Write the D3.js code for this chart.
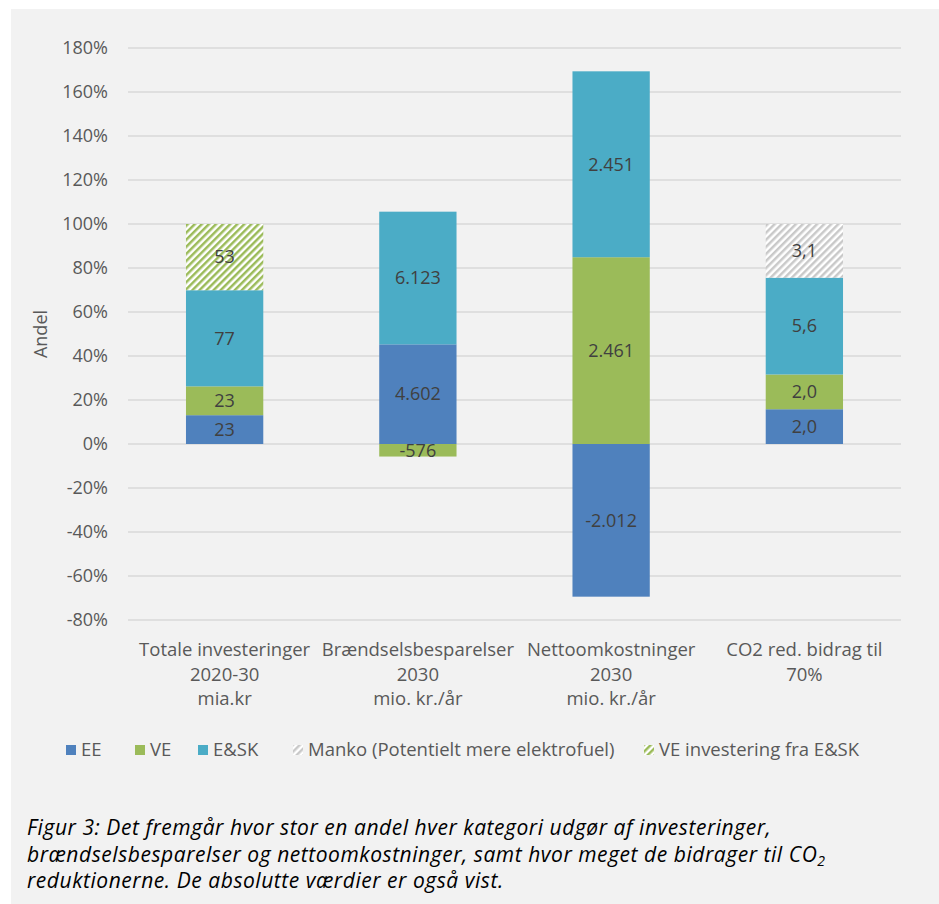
<!DOCTYPE html>
<html>
<head>
<meta charset="utf-8">
<script src="https://cdn.jsdelivr.net/npm/d3@7"></script>
<style>
  body { margin: 0; background: #fff; }
  svg text { font-family: "Open Sans", Lato, sans-serif; }
</style>
</head>
<body>
<svg id="chart" width="939" height="904"></svg>
<script>
// categories (multi-line labels)
var categories = [
  ["Totale investeringer", "2020-30", "mia.kr"],
  ["Brændselsbesparelser", "2030", "mio. kr./år"],
  ["Nettoomkostninger", "2030", "mio. kr./år"],
  ["CO2 red. bidrag til", "70%"]
];

// shares (%) per series, per category
var seriesNames = ["EE", "VE", "E&SK", "Manko", "VEinv"];
var eeShare    = [13.1, 45.3, -69.4, 15.8];
var veShare    = [13.1, -5.7, 84.9, 15.8];
var eskShare   = [43.7, 60.3, 84.5, 44.0];
var mankoShare = [0, 0, 0, 24.4];
var veInvShare = [30.1, 0, 0, 0];

// absolute values shown as labels
var eeLabel    = ["23", "4.602", "-2.012", "2,0"];
var veLabel    = ["23", "-576", "2.461", "2,0"];
var eskLabel   = ["77", "6.123", "2.451", "5,6"];
var mankoLabel = ["", "", "", "3,1"];
var veInvLabel = ["53", "", "", ""];

var yTicks = [-80, -60, -40, -20, 0, 20, 40, 60, 80, 100, 120, 140, 160, 180];

var legendItems = [
  {key: "EE", text: "EE"},
  {key: "VE", text: "VE"},
  {key: "E&SK", text: "E&SK"},
  {key: "Manko", text: "Manko (Potentielt mere elektrofuel)"},
  {key: "VEinv", text: "VE investering fra E&SK"}
];

var caption = [
  "Figur 3: Det fremgår hvor stor en andel hver kategori udgør af investeringer,",
  "brændselsbesparelser og nettoomkostninger, samt hvor meget de bidrager til CO",
  "reduktionerne. De absolutte værdier er også vist."
];

var textColor = "#595959";
var colors = {"EE": "#4f81bd", "VE": "#9bbb59", "E&SK": "#4bacc6", "Manko": "url(#hatchGrey)", "VEinv": "url(#hatchGreen)"};

var svg = d3.select("#chart");

// grey panel
svg.append("rect").attr("x", 11).attr("y", 9).attr("width", 928).attr("height", 895).attr("fill", "#f2f2f2");

// hatch patterns
var defs = svg.append("defs");
function hatch(id, col) {
  var p = defs.append("pattern")
    .attr("id", id)
    .attr("patternUnits", "userSpaceOnUse")
    .attr("width", 5).attr("height", 5)
    .attr("patternTransform", "rotate(45)");
  p.append("rect").attr("width", 5).attr("height", 5).attr("fill", "#fff");
  p.append("rect").attr("width", 2.5).attr("height", 5).attr("fill", col);
}
hatch("hatchGreen", "#9bbb59");
hatch("hatchGrey", "#c9c9c9");

var x = d3.scaleBand().domain(d3.range(categories.length))
  .range([128, 901]).paddingInner(0.6).paddingOuter(0.3);
var y = d3.scaleLinear().domain([-80, 180]).range([620, 48]);

// grid
svg.append("g").selectAll("line").data(yTicks).join("line")
  .attr("x1", 128).attr("x2", 901)
  .attr("y1", d => y(d)).attr("y2", d => y(d))
  .attr("stroke", "#d9d9d9").attr("stroke-width", 1.3);

// y tick labels
svg.append("g").selectAll("text").data(yTicks).join("text")
  .attr("x", 108).attr("y", d => y(d)).attr("dy", "0.35em")
  .attr("text-anchor", "end").attr("fill", textColor).attr("font-size", 18)
  .text(d => d + "%");

svg.append("text")
  .attr("transform", "translate(47," + y(50) + ") rotate(-90)")
  .attr("text-anchor", "middle").attr("fill", textColor).attr("font-size", 18)
  .text("Andel");

// build stacked segments
var shares = {"EE": eeShare, "VE": veShare, "E&SK": eskShare, "Manko": mankoShare, "VEinv": veInvShare};
var labels = {"EE": eeLabel, "VE": veLabel, "E&SK": eskLabel, "Manko": mankoLabel, "VEinv": veInvLabel};
var segs = [];
categories.forEach(function(c, i) {
  var pos = 0, neg = 0;
  seriesNames.forEach(function(s) {
    var v = shares[s][i];
    if (!v) return;
    var y0, y1;
    if (v >= 0) { y0 = pos; y1 = pos + v; pos = y1; }
    else { y0 = neg + v; y1 = neg; neg = y0; }
    segs.push({i: i, s: s, y0: y0, y1: y1, label: labels[s][i]});
  });
});

var bars = svg.append("g");
bars.selectAll("rect").data(segs).join("rect")
  .attr("x", d => x(d.i))
  .attr("width", x.bandwidth())
  .attr("y", d => y(d.y1))
  .attr("height", d => y(d.y0) - y(d.y1))
  .attr("fill", d => colors[d.s]);

bars.selectAll("text").data(segs).join("text")
  .attr("x", d => x(d.i) + x.bandwidth() / 2)
  .attr("y", d => y((d.y0 + d.y1) / 2))
  .attr("dy", "0.35em")
  .attr("text-anchor", "middle")
  .attr("fill", "#404040").attr("font-size", 18)
  .text(d => d.label);

// category labels
var cat = svg.append("g").selectAll("text").data(categories).join("text")
  .attr("text-anchor", "middle").attr("fill", textColor).attr("font-size", 18.5)
  .attr("transform", (d, i) => "translate(" + (x(i) + x.bandwidth() / 2) + ",656)");
cat.selectAll("tspan").data(d => d).join("tspan")
  .attr("x", 0).attr("dy", (d, j) => j === 0 ? 0 : 24.5)
  .text(d => d);

// legend
var legendX = [66, 135, 198, 293, 644];
var lg = svg.append("g").selectAll("g").data(legendItems).join("g")
  .attr("transform", (d, i) => "translate(" + legendX[i] + ",750)");
lg.append("rect").attr("x", 0).attr("y", -5).attr("width", 10).attr("height", 10)
  .attr("fill", d => colors[d.key]);
lg.append("text").attr("x", 15).attr("dy", "0.35em")
  .attr("fill", textColor).attr("font-size", 18.5).text(d => d.text);

// caption
var cap = svg.append("g");
caption.forEach(function(line, k) {
  var t = cap.append("text")
    .attr("x", 27).attr("y", 835 + k * 26.5)
    .attr("fill", "#000").attr("font-size", 21).attr("font-style", "italic")
    .attr("letter-spacing", 0.55)
    .text(line);
  if (k === 1) t.append("tspan").attr("font-size", 14).attr("dy", 4).text("2");
});
</script>
</body>
</html>
